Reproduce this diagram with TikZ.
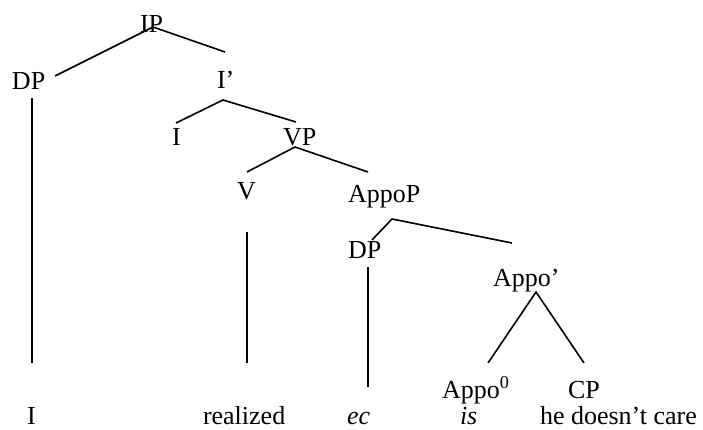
\documentclass[tikz,border=0pt]{standalone}
\usepackage{fontspec}
\setmainfont{Liberation Serif}
\begin{document}
\begin{tikzpicture}[x=1pt,y=-1pt,
  lbl/.style={anchor=base west,inner sep=0pt,outer sep=0pt,font=\fontsize{26}{30}\selectfont},
  branch/.style={line width=1.6pt}]
\useasboundingbox (0,0) rectangle (703,430);

% category labels
\node[lbl] (ip)    at (140,33)  {IP};
\node[lbl] (dpa)   at (12,90)   {DP};
\node[lbl] (ibar)  at (217,89)  {I’};
\node[lbl] (infl)  at (172,146) {I};
\node[lbl] (vp)    at (283,146) {VP};
\node[lbl] (verb)  at (237,200) {V};
\node[lbl] (appop) at (348,203) {AppoP};
\node[lbl] (dpb)   at (348,258) {DP};
\node[lbl] (appob) at (493,286) {Appo’};
\node[lbl] (appoz) at (442,398) {Appo\textsuperscript{0}};
\node[lbl] (cp)    at (568,398) {CP};

% terminal string
\node[lbl] (wi)    at (27,424)  {I};
\node[lbl] (wreal) at (203,424) {realized};
\node[lbl] (wec)   at (347,424) {\itshape ec};
\node[lbl] (wis)   at (460,424) {\itshape is};
\node[lbl] (wcare) at (540,424) {he doesn’t care};

% branch end points
\coordinate (ipt)  at (153,27);
\coordinate (ipl)  at (55,76);
\coordinate (ipr)  at (225,52);
\coordinate (dpat) at (32,98);
\coordinate (dpab) at (32,363);
\coordinate (ibt)  at (223,100);
\coordinate (ibl)  at (176,123);
\coordinate (ibr)  at (296,122);
\coordinate (vpt)  at (295,147);
\coordinate (vpl)  at (247,172);
\coordinate (vpr)  at (368,172);
\coordinate (vt)   at (247,232);
\coordinate (vb)   at (247,363);
\coordinate (apt)  at (392,219);
\coordinate (apl)  at (372,240);
\coordinate (apr)  at (512,243);
\coordinate (dpbt) at (368,267);
\coordinate (dpbb) at (368,387);
\coordinate (abt)  at (536,292);
\coordinate (abl)  at (488,363);
\coordinate (abr)  at (584,363);

% branches
\draw[branch] (ipl) -- (ipt) -- (ipr);
\draw[branch] (dpat) -- (dpab);
\draw[branch] (ibl) -- (ibt) -- (ibr);
\draw[branch] (vpl) -- (vpt) -- (vpr);
\draw[branch] (vt) -- (vb);
\draw[branch] (apl) -- (apt) -- (apr);
\draw[branch] (dpbt) -- (dpbb);
\draw[branch] (abl) -- (abt) -- (abr);
\end{tikzpicture}
\end{document}
